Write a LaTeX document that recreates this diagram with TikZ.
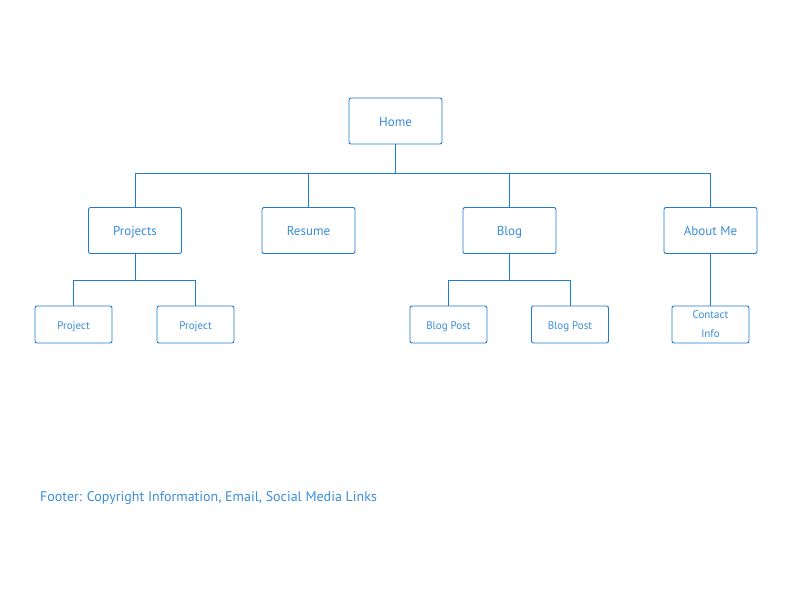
\documentclass[tikz,border=0pt]{standalone}
\usepackage{fontspec}
\setmainfont{PT Sans}
\definecolor{stroke}{HTML}{1F7BCC}
\definecolor{txt}{HTML}{3A8ED8}
\begin{document}
\begin{tikzpicture}[x=1pt,y=-1pt,
  box/.style={draw=stroke,line width=0.9pt,rounded corners=2pt,fill=white,inner sep=0pt,
    text=txt,font=\fontsize{13}{15}\selectfont,align=center},
  fixh/.style={text height=2.1ex,text depth=0ex},
  big/.style={box,fixh,minimum width=93pt,minimum height=46pt},
  small/.style={box,minimum width=77pt,minimum height=37pt,font=\fontsize{11}{19}\selectfont},
  conn/.style={draw=stroke,line width=0.9pt}]
\useasboundingbox (0,0) rectangle (792,612);
\node[big] (home) at (395.5,121) {Home};
\node[big] (projects) at (135,230.5) {Projects};
\node[big] (resume) at (308.5,230.5) {Resume};
\node[big] (blog) at (509.5,230.5) {Blog};
\node[big] (about) at (710.5,230.5) {About Me};
\node[small,fixh] (p1) at (73.5,324.5) {Project};
\node[small,fixh] (p2) at (195.5,324.5) {Project};
\node[small,fixh] (b1) at (448.5,324.5) {Blog Post};
\node[small,fixh] (b2) at (570,324.5) {Blog Post};
\node[small] (contact) at (710.5,324.5) {Contact\\Info};
\coordinate (bus1) at (395.5,173);
\coordinate (bus2) at (135,280);
\coordinate (bus3) at (509.5,280);
\draw[conn] (home.south) -- (bus1);
\draw[conn] (bus1) -| (projects.north);
\draw[conn] (bus1) -| (resume.north);
\draw[conn] (bus1) -| (blog.north);
\draw[conn] (bus1) -| (about.north);
\draw[conn] (projects.south) -- (bus2);
\draw[conn] (bus2) -| (p1.north);
\draw[conn] (bus2) -| (p2.north);
\draw[conn] (blog.south) -- (bus3);
\draw[conn] (bus3) -| (b1.north);
\draw[conn] (bus3) -| (b2.north);
\draw[conn] (about.south) -- (contact.north);
\node[anchor=west,text=txt,font=\fontsize{14}{17}\selectfont,inner sep=0pt] (footer) at (40,498) {Footer: Copyright Information, Email, Social Media Links};
\end{tikzpicture}
\end{document}
